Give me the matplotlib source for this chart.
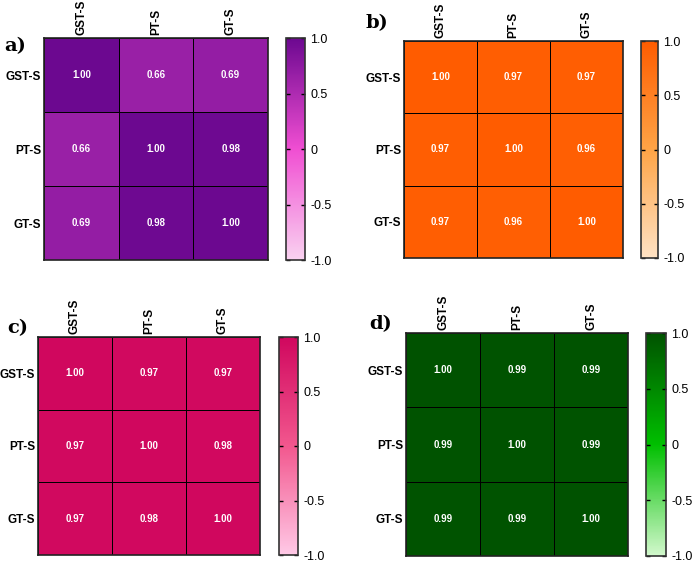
import numpy as np
import matplotlib.pyplot as plt
from matplotlib.colors import LinearSegmentedColormap

labels = ['GST-S', 'PT-S', 'GT-S']

corr_a = np.array([[1.00, 0.66, 0.69],
                   [0.66, 1.00, 0.98],
                   [0.69, 0.98, 1.00]])
corr_b = np.array([[1.00, 0.97, 0.97],
                   [0.97, 1.00, 0.96],
                   [0.97, 0.96, 1.00]])
corr_c = np.array([[1.00, 0.97, 0.97],
                   [0.97, 1.00, 0.98],
                   [0.97, 0.98, 1.00]])
corr_d = np.array([[1.00, 0.99, 0.99],
                   [0.99, 1.00, 0.99],
                   [0.99, 0.99, 1.00]])

cmap_a = LinearSegmentedColormap.from_list('a', ['#f9d2f0', '#f04ed2', '#6c0890'])
cmap_b = LinearSegmentedColormap.from_list('b', ['#ffe2c4', '#ffa446', '#ff5c00'])
cmap_c = LinearSegmentedColormap.from_list('c', ['#ffc9e6', '#f2578e', '#d0075e'])
cmap_d = LinearSegmentedColormap.from_list('d', ['#d2f8cc', '#00bf00', '#005200'])

W, H = 695, 562
fig = plt.figure(figsize=(W / 100, H / 100), dpi=100)
plt.rcParams['font.family'] = ['Liberation Sans', 'DejaVu Sans']


def box(x0, y0, x1, y1):
    return [x0 / W, 1 - y1 / H, (x1 - x0) / W, (y1 - y0) / H]


panels = [
    ('a)', corr_a, cmap_a, (44, 38, 268, 260), (286, 38, 305, 260), (4, 46)),
    ('b)', corr_b, cmap_b, (404, 41, 623, 258), (641, 41, 658, 258), (366, 23)),
    ('c)', corr_c, cmap_c, (38, 337, 260, 555), (279, 337, 298, 555), (7, 328)),
    ('d)', corr_d, cmap_d, (406, 333, 628, 556), (646, 333, 666, 556), (369, 324)),
]

for tag, data, cmap, hb, cb, lp in panels:
    ax = fig.add_axes(box(*hb))
    mesh = ax.pcolormesh(data, cmap=cmap, vmin=-1, vmax=1,
                         edgecolors='black', linewidth=0.55)
    ax.set_xlim(0, 3)
    ax.set_ylim(3, 0)
    ax.xaxis.tick_top()
    ax.set_xticks(np.arange(3) + 0.5)
    ax.set_yticks(np.arange(3) + 0.5)
    ax.set_xticklabels(labels, rotation=90, fontsize=8.5, fontweight='bold')
    ax.set_yticklabels(labels, fontsize=8.5, fontweight='bold')
    ax.tick_params(length=0, pad=2)
    for s in ax.spines.values():
        s.set_linewidth(1.2)
        s.set_color('#222222')
    for i in range(3):
        for j in range(3):
            ax.text(j + 0.5, i + 0.5, f'{data[i, j]:.2f}', ha='center', va='center',
                    color='white', fontsize=7, fontweight='bold')

    cax = fig.add_axes(box(*cb))
    cbar = fig.colorbar(mesh, cax=cax)
    cbar.set_ticks([-1, -0.5, 0, 0.5, 1])
    cbar.set_ticklabels(['-1.0', '-0.5', '0', '0.5', '1.0'])
    cax.tick_params(labelsize=9, length=3, width=1, left=True, right=True,
                    direction='in', pad=4)
    cbar.outline.set_linewidth(1.2)
    cbar.outline.set_edgecolor('#333333')

    fig.text(lp[0] / W, 1 - lp[1] / H, tag, fontsize=14, fontweight='bold',
             family='DejaVu Serif', ha='left', va='center')

fig.savefig('out.png', dpi=100)
